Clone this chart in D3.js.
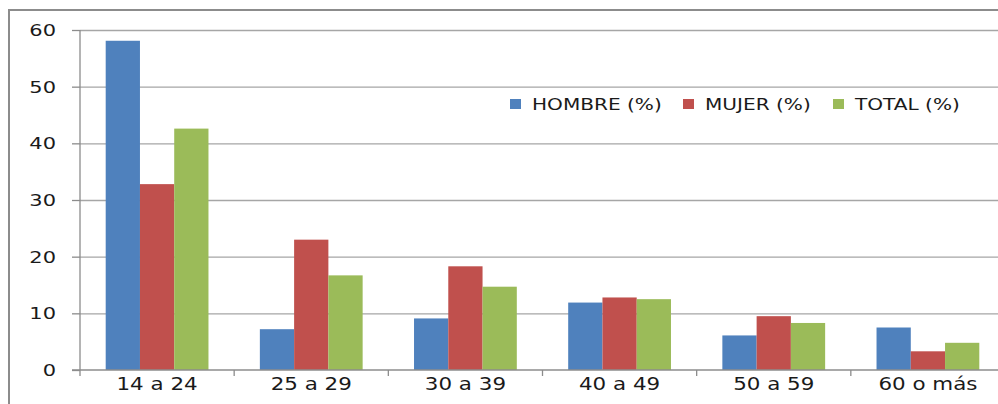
<!DOCTYPE html>
<html lang="es">

<head>
  <meta charset="UTF-8" />
  <script src="https://d3js.org/d3.v7.min.js"></script>
  <style>
    body { margin: 0; background: #fff; }
    text { font-family: "DejaVu Sans", Verdana, sans-serif; fill: #1a1a1a; }
    .gridlines line { stroke: #a6a6a6; stroke-width: 1.3px; }
    .gridlines .domain { stroke: none; }
  </style>
</head>

<body>
  <svg id="chart" width="998" height="404"></svg>

  <script>
    // data
    const groups = ["14 a 24", "25 a 29", "30 a 39", "40 a 49", "50 a 59", "60 o más"];
    const seriesNames = ["HOMBRE (%)", "MUJER (%)", "TOTAL (%)"];
    const hombre = [58.1, 7.2, 9.1, 11.9, 6.1, 7.5];
    const mujer = [32.8, 23.0, 18.3, 12.8, 9.5, 3.3];
    const total = [42.6, 16.7, 14.7, 12.5, 8.3, 4.8];
    const yTicks = [0, 10, 20, 30, 40, 50, 60];
    const colors = ["#4f81bd", "#c0504d", "#9bbb59"];

    const svg = d3.select("#chart");
    const margin = { left: 80, top: 30, bottom: 34 };
    const plotRight = 1005; // plot runs past the right edge in the original
    const plotBottom = 370;

    // outer chart border (only top and left visible)
    svg.append("path")
      .attr("d", "M9,404 V10 H998")
      .attr("fill", "none")
      .attr("stroke", "#8c8c8c")
      .attr("stroke-width", 2);

    const x = d3.scaleBand().domain(groups).range([margin.left, plotRight]);
    const barW = x.bandwidth() / 4.5;
    const xInner = d3.scaleBand().domain(seriesNames)
      .range([barW * 0.75, x.bandwidth() - barW * 0.75]);
    const y = d3.scaleLinear().domain([0, 60]).range([plotBottom, margin.top]);

    // horizontal gridlines
    svg.append("g")
      .attr("class", "gridlines")
      .attr("transform", `translate(${margin.left},0)`)
      .call(d3.axisLeft(y).tickValues(yTicks.slice(1)).tickSize(-(plotRight - margin.left)).tickFormat(""));

    // y axis
    let yAxis = svg.append("g")
      .attr("transform", `translate(${margin.left},0)`)
      .call(d3.axisLeft(y).tickValues(yTicks).tickSize(8));
    yAxis.selectAll("line, path").attr("stroke", "#8c8c8c").attr("stroke-width", 1.3);
    yAxis.select(".domain").attr("d", `M0,${margin.top}V${plotBottom}`);
    yAxis.selectAll("text")
      .attr("x", 0)
      .attr("dy", "0.36em")
      .attr("transform", "translate(-24,0) scale(1.4,1)")
      .attr("font-size", "15px")
      .attr("font-family", "DejaVu Sans, sans-serif")
      .attr("fill", "#1a1a1a");

    // bars
    const rows = groups.map((g, i) => ({ group: g, vals: [hombre[i], mujer[i], total[i]] }));
    svg.append("g").selectAll("g").data(rows)
      .join("g")
      .attr("transform", d => `translate(${x(d.group)},0)`)
      .selectAll("rect")
      .data(d => d.vals.map((v, k) => ({ name: seriesNames[k], v: v, k: k })))
      .join("rect")
      .attr("x", d => xInner(d.name))
      .attr("y", d => y(d.v))
      .attr("width", xInner.bandwidth())
      .attr("height", d => plotBottom - y(d.v))
      .attr("fill", d => colors[d.k]);

    // x axis with tick marks between categories
    let xAxis = svg.append("g").attr("transform", `translate(0,${plotBottom})`);
    xAxis.append("line")
      .attr("x1", margin.left - 8).attr("x2", plotRight)
      .attr("stroke", "#8c8c8c").attr("stroke-width", 1.3);
    xAxis.selectAll("line.tick")
      .data(groups)
      .join("line")
      .attr("class", "tick")
      .attr("x1", d => x(d)).attr("x2", d => x(d))
      .attr("y1", 0).attr("y2", 6)
      .attr("stroke", "#8c8c8c").attr("stroke-width", 1.3);
    xAxis.selectAll("text")
      .data(groups)
      .join("text")
      .attr("transform", d => `translate(${x(d) + x.bandwidth() / 2},20) scale(1.26,1)`)
      .attr("text-anchor", "middle")
      .attr("font-size", "17px")
      .text(d => d);

    // legend
    const legendX = [510, 683, 833];
    let legend = svg.append("g").selectAll("g").data(seriesNames)
      .join("g")
      .attr("transform", (d, i) => `translate(${legendX[i]},104)`);
    legend.append("rect")
      .attr("x", 0).attr("y", -5)
      .attr("width", 11).attr("height", 10)
      .attr("fill", (d, i) => colors[i]);
    legend.append("text")
      .attr("transform", "translate(22,5.5) scale(1.34,1)")
      .attr("font-size", "15px")
      .text(d => d);
  </script>
</body>

</html>
